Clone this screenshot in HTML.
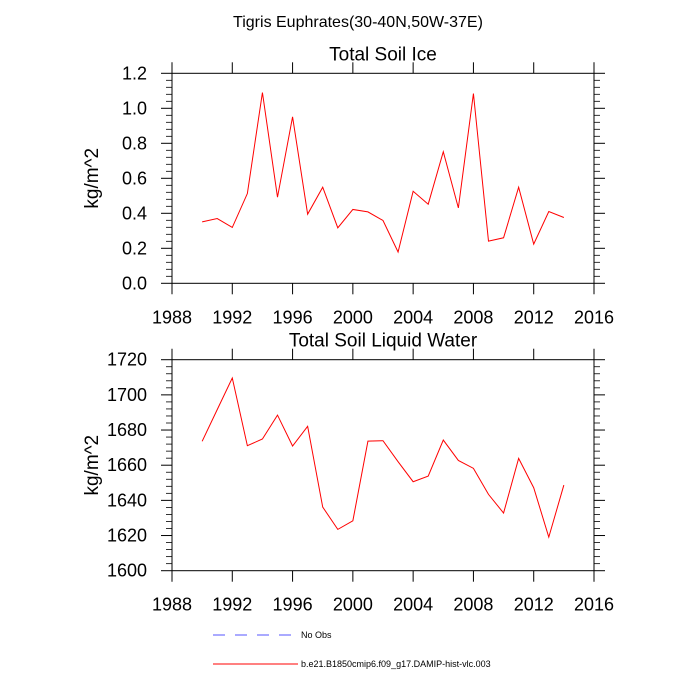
<!DOCTYPE html>
<html><head><meta charset="utf-8"><style>
html,body{margin:0;padding:0;background:#fff;}
svg{display:block;font-family:"Liberation Sans",sans-serif;}
</style></head><body>
<svg id="chart" width="700" height="700" viewBox="0 0 700 700">
<text x="358" y="27" font-size="16" text-anchor="middle">Tigris Euphrates(30-40N,50W-37E)</text>
<g id="p1"></g>
<g id="p2"></g>
<g>
<line x1="213" y1="635" x2="298" y2="635" stroke="#5555ff" stroke-width="1" stroke-dasharray="12,10"/>
<text x="301" y="638" font-size="9">No Obs</text>
<line x1="213" y1="664" x2="298" y2="664" stroke="#ff0000" stroke-width="1"/>
<text x="301" y="667" font-size="9">b.e21.B1850cmip6.f09_g17.DAMIP-hist-vlc.003</text>
</g>
</svg>
<script>
const years = [1990,1991,1992,1993,1994,1995,1996,1997,1998,1999,2000,2001,2002,2003,2004,2005,2006,2007,2008,2009,2010,2011,2012,2013,2014];
const iceValues = [0.351,0.370,0.319,0.513,1.090,0.492,0.951,0.395,0.549,0.317,0.422,0.408,0.359,0.179,0.526,0.452,0.752,0.431,1.084,0.241,0.260,0.549,0.224,0.410,0.376];
const liquidValues = [1673.6,1691.6,1709.6,1671.1,1674.9,1688.5,1670.9,1682.1,1636.2,1623.5,1628.4,1673.7,1673.9,1662.0,1650.6,1653.8,1674.3,1662.7,1658.2,1643.4,1632.8,1663.9,1647.2,1619.1,1648.7];
const xTicks = [1988,1992,1996,2000,2004,2008,2012,2016];
const iceTicks = [0.0,0.2,0.4,0.6,0.8,1.0,1.2];
const iceTickLabels = ["0.0","0.2","0.4","0.6","0.8","1.0","1.2"];
const liquidTicks = [1600,1620,1640,1660,1680,1700,1720];
const liquidTickLabels = ["1600","1620","1640","1660","1680","1700","1720"];
const NS="http://www.w3.org/2000/svg";
function mk(parent,tag,attrs){const e=document.createElementNS(NS,tag);for(const k in attrs)e.setAttribute(k,attrs[k]);parent.appendChild(e);return e;}
function panel(gid,top,bottom,title,yTicks,yLabels,yMin,yMax,vals){
  const g=document.getElementById(gid);
  const L=172,R=594;
  const xs=v=>L+(v-1988)/(2016-1988)*(R-L);
  const ys=v=>bottom-(v-yMin)/(yMax-yMin)*(bottom-top);
  const t=mk(g,'text',{x:383,y:top-13,'font-size':19,'text-anchor':'middle'});t.textContent=title;
  
  
  const cy=(top+bottom)/2;
  const yt=mk(g,'text',{x:98,y:cy,'font-size':19,'text-anchor':'middle',transform:`rotate(-90 98 ${cy})`});yt.textContent='kg/m^2';
  
  
  const box=mk(g,'rect',{x:L,y:top,width:R-L,height:bottom-top,fill:'none',stroke:'#000','stroke-width':1});
  
  
  xTicks.forEach(v=>{const x=xs(v);
    mk(g,'line',{x1:x,y1:top,x2:x,y2:top-11,stroke:'#000'});
    mk(g,'line',{x1:x,y1:bottom,x2:x,y2:bottom+11,stroke:'#000'});
    const tx=mk(g,'text',{x:x,y:bottom+40,'font-size':18,'text-anchor':'middle'});tx.textContent=v;
    
    
  });
  const step=(yMax-yMin)/6/5;
  for(let i=0;i<=30;i++){const y=ys(yMin+i*step);const len=(i%5===0)?11:6;
    mk(g,'line',{x1:L,y1:y,x2:L-len,y2:y,stroke:'#000','stroke-width':(i%5===0)?1:0.8});
    mk(g,'line',{x1:R,y1:y,x2:R+len,y2:y,stroke:'#000','stroke-width':(i%5===0)?1:0.8});
  }
  yTicks.forEach((v,i)=>{const ty=mk(g,'text',{x:L-25,y:ys(v)+6,'font-size':18,'text-anchor':'end'});ty.textContent=yLabels[i];
    
    
  });
  const pts=vals.map((v,i)=>xs(years[i]).toFixed(2)+','+ys(v).toFixed(2)).join(' ');
  const pl=mk(g,'polyline',{points:pts,fill:'none',stroke:'#ff0000','stroke-width':1});
  
  
}
panel('p1',73.3,283.3,'Total Soil Ice',iceTicks,iceTickLabels,0,1.2,iceValues);
panel('p2',359.7,570.7,'Total Soil Liquid Water',liquidTicks,liquidTickLabels,1600,1720,liquidValues);
</script>
</body></html>
